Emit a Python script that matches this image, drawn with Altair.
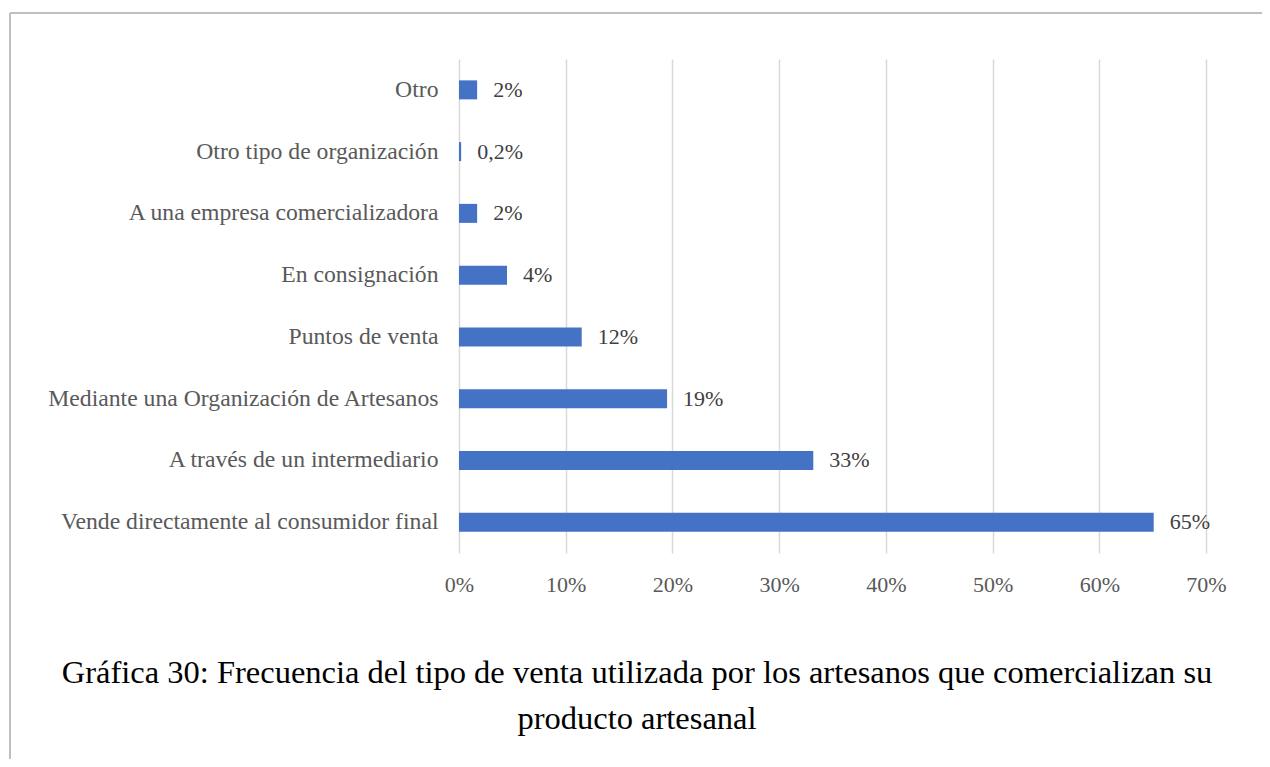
import altair as alt
import pandas as pd

categories = [
    "Otro",
    "Otro tipo de organización",
    "A una empresa comercializadora",
    "En consignación",
    "Puntos de venta",
    "Mediante una Organización de Artesanos",
    "A través de un intermediario",
    "Vende directamente al consumidor final",
]
values = [1.7, 0.2, 1.7, 4.5, 11.5, 19.5, 33.2, 65.1]
labels = ["2%", "0,2%", "2%", "4%", "12%", "19%", "33%", "65%"]
x_ticks = [0, 10, 20, 30, 40, 50, 60, 70]
caption_lines = [
    "Gráfica 30: Frecuencia del tipo de venta utilizada por los artesanos que comercializan su",
    "producto artesanal",
]

FONT = "Liberation Serif"
df = pd.DataFrame({"cat": categories, "val": values, "lab": labels})

x_enc = alt.X(
    "val:Q",
    scale=alt.Scale(domain=[0, 70], nice=False),
    axis=alt.Axis(
        values=x_ticks,
        labelExpr="datum.value + '%'",
        title=None,
        domain=False,
        ticks=False,
        grid=True,
        gridColor="#D9D9D9",
        gridWidth=1.5,
        labelFont=FONT,
        labelFontSize=22,
        labelColor="#595959",
        labelPadding=21,
        labelFlush=False,
        labelOverlap=False,
    ),
)
y_enc = alt.Y(
    "cat:N",
    sort=categories,
    scale=alt.Scale(paddingInner=0.69, paddingOuter=0.345),
    axis=alt.Axis(
        title=None,
        domain=False,
        ticks=False,
        labelFont=FONT,
        labelFontSize=23.7,
        labelColor="#595959",
        labelPadding=21,
        labelLimit=600,
    ),
)

base = alt.Chart(df)
bars = base.mark_bar(color="#4472C4", size=19).encode(x=x_enc, y=y_enc)
text = base.mark_text(
    align="left", baseline="middle", dx=16, font=FONT, fontSize=22, color="#404040"
).encode(x="val:Q", y=alt.Y("cat:N", sort=categories), text="lab:N")

one = alt.Chart(pd.DataFrame({"a": [0]}))
top_rule = one.mark_rule(color="#BFBFBF", strokeWidth=2).encode(
    x=alt.value(-449), x2=alt.value(900), y=alt.value(-46)
)
left_rule = one.mark_rule(color="#BFBFBF", strokeWidth=2).encode(
    x=alt.value(-449), y=alt.value(-46), y2=alt.value(800)
)
cap1 = alt.Chart(pd.DataFrame({"t": [caption_lines[0]]})).mark_text(
    align="center", baseline="middle", font=FONT, fontSize=32.5, color="#000000"
).encode(x=alt.value(178), y=alt.value(614), text="t:N")
cap2 = alt.Chart(pd.DataFrame({"t": [caption_lines[1]]})).mark_text(
    align="center", baseline="middle", font=FONT, fontSize=32.5, color="#000000"
).encode(x=alt.value(178), y=alt.value(660), text="t:N")

chart = (
    alt.layer(bars, text, top_rule, left_rule, cap1, cap2)
    .properties(
        width=747,
        height=494,
        padding={"left": 451, "top": 51, "right": 56, "bottom": 206},
        autosize=alt.AutoSizeParams(type="none"),
        background="white",
    )
    .configure_view(stroke=None)
)

chart.save("out.html", embed_options={"renderer": "svg", "actions": False})
